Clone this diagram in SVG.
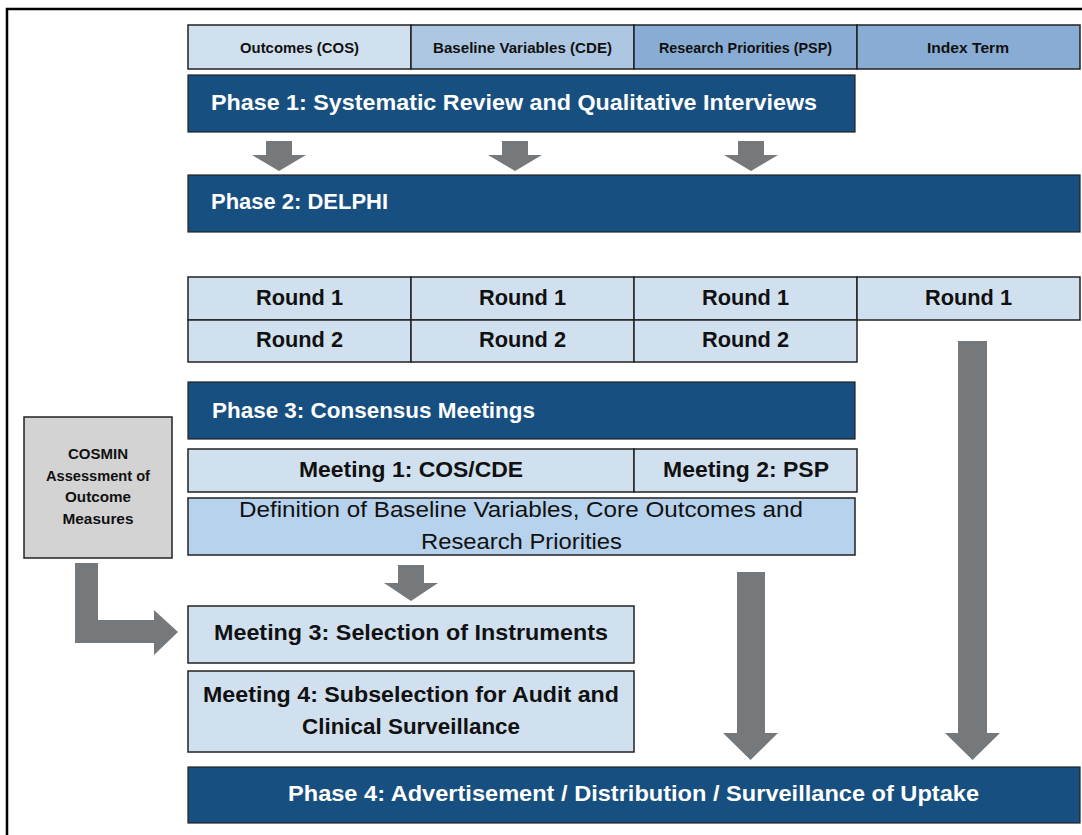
<svg xmlns="http://www.w3.org/2000/svg" width="1082" height="835" viewBox="0 0 1082 835">
<style>
.frame{fill:none;stroke:#000;stroke-width:2.5}
.cell{stroke:#222;stroke-width:1.5}
.light{fill:#d0e0ee}
.mid{fill:#adc7e2}
.deep{fill:#88acd3}
.defn{fill:#b6d2ec}
.phase{fill:#174f80;stroke:#222;stroke-width:1.2}
.grey{fill:#d3d3d3;stroke:#222;stroke-width:1.5}
.arr{fill:#76797c}
text{font-family:"Liberation Sans",Arial,sans-serif}
.hd{font-size:15px;font-weight:bold;fill:#111;text-anchor:middle}
.ph{font-size:21.5px;font-weight:bold;fill:#fff}
.rd{font-size:21.5px;font-weight:bold;fill:#111;text-anchor:middle}
.df{font-size:22px;fill:#111;text-anchor:middle}
.cs{font-size:15px;font-weight:bold;fill:#111;text-anchor:middle}
</style>
<rect x="0" y="0" width="1082" height="835" fill="#fff"/>
<rect class="frame" x="7" y="9" width="1090" height="840"/>

<g id="header">
<rect class="cell light" x="188" y="25" width="223" height="44"/>
<rect class="cell mid" x="411" y="25" width="223" height="44"/>
<rect class="cell deep" x="634" y="25" width="223" height="44"/>
<rect class="cell deep" x="857" y="25" width="223" height="44"/>
<text class="hd" x="299.5" y="53" textLength="119" lengthAdjust="spacingAndGlyphs">Outcomes (COS)</text>
<text class="hd" x="522.5" y="53" textLength="179" lengthAdjust="spacingAndGlyphs">Baseline Variables (CDE)</text>
<text class="hd" x="745.5" y="53" textLength="173" lengthAdjust="spacingAndGlyphs">Research Priorities (PSP)</text>
<text class="hd" x="968" y="53" textLength="82" lengthAdjust="spacingAndGlyphs">Index Term</text>
</g>

<g id="phase1">
<rect class="phase" x="188" y="75" width="667" height="57"/>
<text class="ph" x="211" y="110" textLength="606" lengthAdjust="spacingAndGlyphs">Phase 1: Systematic Review and Qualitative Interviews</text>
</g>

<g id="phase2">
<rect class="phase" x="188" y="175" width="892" height="57"/>
<text class="ph" x="211" y="209" textLength="177" lengthAdjust="spacingAndGlyphs">Phase 2: DELPHI</text>
</g>

<g id="rounds">
<rect class="cell light" x="188" y="277" width="223" height="43"/>
<rect class="cell light" x="411" y="277" width="223" height="43"/>
<rect class="cell light" x="634" y="277" width="223" height="43"/>
<rect class="cell light" x="857" y="277" width="223" height="43"/>
<rect class="cell light" x="188" y="320" width="223" height="42"/>
<rect class="cell light" x="411" y="320" width="223" height="42"/>
<rect class="cell light" x="634" y="320" width="223" height="42"/>
<text class="rd" x="299.5" y="305" textLength="87" lengthAdjust="spacingAndGlyphs">Round 1</text>
<text class="rd" x="522.5" y="305" textLength="87" lengthAdjust="spacingAndGlyphs">Round 1</text>
<text class="rd" x="745.5" y="305" textLength="87" lengthAdjust="spacingAndGlyphs">Round 1</text>
<text class="rd" x="968.5" y="305" textLength="87" lengthAdjust="spacingAndGlyphs">Round 1</text>
<text class="rd" x="299.5" y="347" textLength="87" lengthAdjust="spacingAndGlyphs">Round 2</text>
<text class="rd" x="522.5" y="347" textLength="87" lengthAdjust="spacingAndGlyphs">Round 2</text>
<text class="rd" x="745.5" y="347" textLength="87" lengthAdjust="spacingAndGlyphs">Round 2</text>
</g>

<g id="phase3">
<rect class="phase" x="188" y="382" width="667" height="57"/>
<text class="ph" x="212" y="418" textLength="323" lengthAdjust="spacingAndGlyphs">Phase 3: Consensus Meetings</text>
</g>

<g id="meetings12">
<rect class="cell light" x="188" y="449" width="446" height="43"/>
<rect class="cell light" x="634" y="449" width="223" height="43"/>
<text class="rd" x="411" y="477" textLength="224" lengthAdjust="spacingAndGlyphs">Meeting 1: COS/CDE</text>
<text class="rd" x="746" y="477" textLength="166" lengthAdjust="spacingAndGlyphs">Meeting 2: PSP</text>
</g>

<g id="definition">
<rect class="cell defn" x="188" y="498" width="667" height="57"/>
<text class="df" x="521" y="517" textLength="564" lengthAdjust="spacingAndGlyphs">Definition of Baseline Variables, Core Outcomes and</text>
<text class="df" x="521.5" y="549" textLength="201" lengthAdjust="spacingAndGlyphs">Research Priorities</text>
</g>

<g id="cosmin">
<rect class="grey" x="24" y="417" width="148" height="141"/>
<text class="cs" x="98" y="459" textLength="60" lengthAdjust="spacingAndGlyphs">COSMIN</text>
<text class="cs" x="98" y="481" textLength="104" lengthAdjust="spacingAndGlyphs">Assessment of</text>
<text class="cs" x="98" y="502" textLength="66" lengthAdjust="spacingAndGlyphs">Outcome</text>
<text class="cs" x="98" y="524" textLength="71" lengthAdjust="spacingAndGlyphs">Measures</text>
</g>

<g id="meeting3">
<rect class="cell light" x="188" y="606" width="446" height="57"/>
<text class="rd" x="411" y="640" textLength="394" lengthAdjust="spacingAndGlyphs">Meeting 3: Selection of Instruments</text>
</g>

<g id="meeting4">
<rect class="cell light" x="188" y="671" width="446" height="81"/>
<text class="rd" x="411" y="702" textLength="416" lengthAdjust="spacingAndGlyphs">Meeting 4: Subselection for Audit and</text>
<text class="rd" x="411" y="734" textLength="218" lengthAdjust="spacingAndGlyphs">Clinical Surveillance</text>
</g>

<g id="phase4">
<rect class="phase" x="188" y="767" width="892" height="56"/>
<text class="ph" x="633.5" y="801" text-anchor="middle" textLength="691" lengthAdjust="spacingAndGlyphs">Phase 4: Advertisement / Distribution / Surveillance of Uptake</text>
</g>

<g id="connectors">
<polygon class="arr" points="266,141 292,141 292,155 306,155 279,171 252,155 266,155"/>
<polygon class="arr" points="502,141 528,141 528,155 542,155 515,171 488,155 502,155"/>
<polygon class="arr" points="738,141 764,141 764,155 778,155 751,171 724,155 738,155"/>
<polygon class="arr" points="398,565 424,565 424,583 438,583 411,601 384,583 398,583"/>
<polygon class="arr" points="75,563 98,563 98,620 154,620 154,610 178,632 154,655 154,643 75,643"/>
<polygon class="arr" points="737,572 765,572 765,733 778,733 750.5,760 723,733 737,733"/>
<polygon class="arr" points="958,341 987,341 987,733 1000,733 972.5,760 945,733 958,733"/>
</g>
</svg>
